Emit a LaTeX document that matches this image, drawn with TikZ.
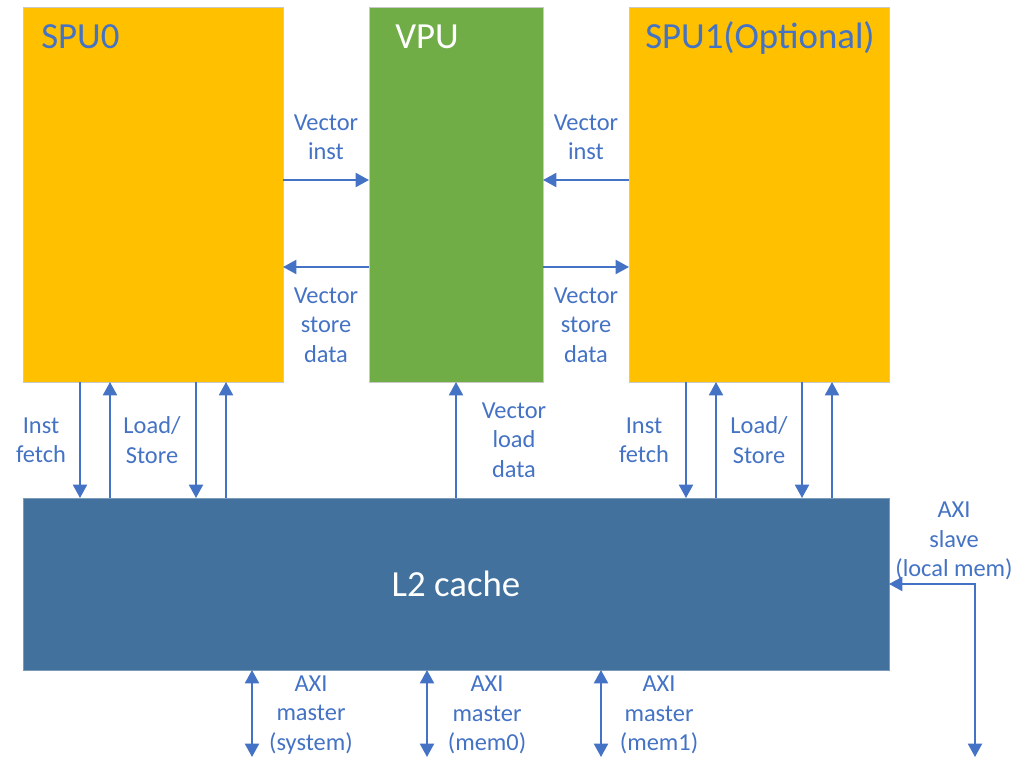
\documentclass[tikz,border=0pt]{standalone}
\usepackage{fontspec}
\setmainfont{Carlito}
\usetikzlibrary{arrows.meta,calc}
\definecolor{orng}{HTML}{FFC000}
\definecolor{grn}{HTML}{70AD47}
\definecolor{dblue}{HTML}{41719C}
\definecolor{tblue}{HTML}{4472C4}
\definecolor{edge}{HTML}{C9C9C9}
\begin{document}
\begin{tikzpicture}[x=0.75pt,y=-0.75pt,
  box/.style={draw=edge,line width=0.6pt,inner sep=0pt,outer sep=0pt,minimum height=281.25pt},
  big/.style={font=\fontsize{27.6}{32}\selectfont,inner sep=0pt},
  lab/.style={font=\fontsize{18.3}{22}\selectfont,text=tblue,align=center,inner sep=0pt},
  tip/.style={Triangle[length=10pt,width=10.5pt]},
  arr/.style={draw=tblue,line width=1.5pt,-{Triangle[length=10pt,width=10.5pt]}},
  darr/.style={draw=tblue,line width=1.5pt,{Triangle[length=10pt,width=10.5pt]}-{Triangle[length=10pt,width=10.5pt]}}]
\useasboundingbox (0,0) rectangle (1020,761);
% boxes
\node[box,fill=orng,minimum width=195pt] (spu0) at (153,194.5) {};
\node[box,fill=grn,minimum width=130.5pt] (vpu) at (456,194.5) {};
\node[box,fill=orng,minimum width=195pt] (spu1) at (759,194.5) {};
\node[box,fill=dblue,draw=dblue!70!white,minimum width=649.5pt,minimum height=129pt] (l2) at (456,584) {};
% titles
\node[big,text=tblue,anchor=base west] (t0) at (41,48) {SPU0};
\node[big,text=white,anchor=base west] (tv) at (395,48) {VPU};
\node[big,text=tblue,anchor=base west] (t1) at (645,48) {SPU1(Optional)};
\node[big,text=white] (tl2) at (456,584) {L2 cache};
% horizontal connectors
\draw[arr] ($(spu0.north east)+(0,173)$) coordinate (h1) -- (h1 -| vpu.west);
\draw[arr] ($(vpu.north west)+(0,260)$) coordinate (h2) -- (h2 -| spu0.east);
\draw[arr] ($(spu1.north west)+(0,173)$) coordinate (h3) -- (h3 -| vpu.east);
\draw[arr] ($(vpu.north east)+(0,260)$) coordinate (h4) -- (h4 -| spu1.west);
% vertical connectors SPU <-> L2
\foreach \s in {spu0,spu1}{
  \foreach \o in {57,173}{
    \draw[arr] ($(\s.south west)+(\o,0)$) coordinate (d) -- (d |- l2.north);
  }
  \foreach \o in {87,203}{
    \coordinate (u) at ($(\s.south west)+(\o,0)$);
    \draw[arr] (u |- l2.north) -- (u);
  }
}
\draw[arr] (l2.north) -- (vpu.south);
% AXI masters
\coordinate (m0) at (252,757);
\coordinate (m1) at (427,757);
\coordinate (m2) at (601,757);
\draw[darr] (m0 |- l2.south) -- (m0);
\draw[darr] (m1 |- l2.south) -- (m1);
\draw[darr] (m2 |- l2.south) -- (m2);
% AXI slave
\coordinate (sl) at (975,757);
\draw[darr] (l2.east) -- (l2.east -| sl) -- (sl);
% labels
\node[lab] (l1) at (326,137) {Vector\\inst};
\node[lab] (l2l) at (586,137) {Vector\\inst};
\node[lab] (l3) at (326,325) {Vector\\store\\data};
\node[lab] (l4) at (586,325) {Vector\\store\\data};
\node[lab] (l5) at (41,440) {Inst\\fetch};
\node[lab] (l6) at (152,440) {Load/\\Store};
\node[lab] (l7) at (644,440) {Inst\\fetch};
\node[lab] (l8) at (759,440) {Load/\\Store};
\node[lab] (l9) at (514,440) {Vector\\load\\data};
\node[lab] (l10) at (954,541) {AXI\\slave\\(local mem)};
\node[lab] (l11) at (311,715) {AXI\\master\\(system)};
\node[lab] (l12) at (487,715) {AXI\\master\\(mem0)};
\node[lab] (l13) at (659,715) {AXI\\master\\(mem1)};
\end{tikzpicture}
\end{document}
